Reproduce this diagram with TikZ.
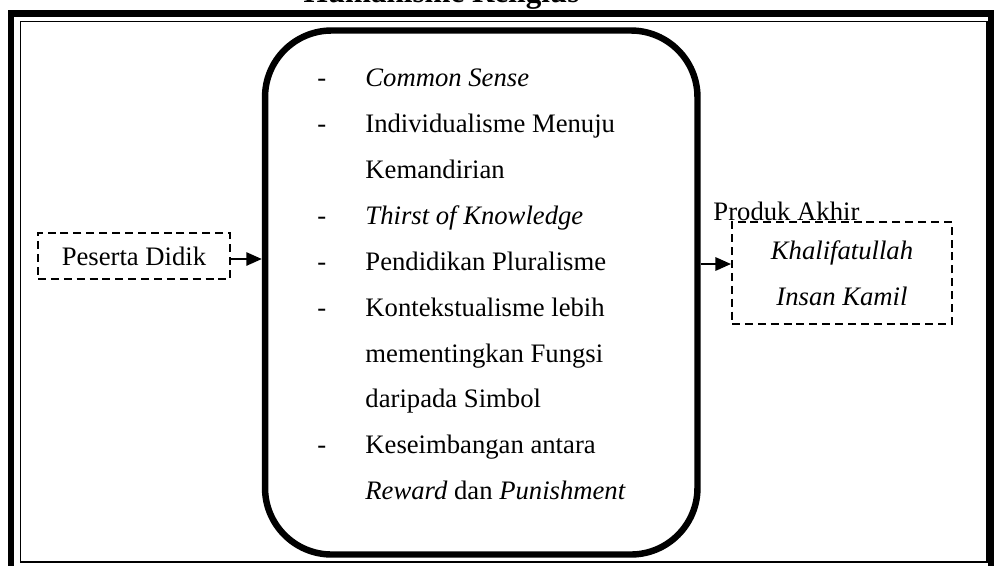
\documentclass[tikz,border=0pt]{standalone}
\usepackage{fontspec}
\setmainfont{Liberation Serif}
\usetikzlibrary{arrows.meta}

\tikzset{
    bingkai/.style={draw, dash pattern=on 3.6pt off 2.2pt, line width=0.9pt, inner sep=0pt},
    panah/.style={-{Triangle[length=7pt,width=6pt]}, line width=0.9pt},
}

\begin{document}
\begin{tikzpicture}[x=0.45pt, y=-0.45pt, font=\fontsize{12}{20.65}\selectfont]
    \useasboundingbox (0,0) rectangle (995,565);

    % Frame
    \draw[line width=3pt] (11,13.5) rectangle (991,575);
    \draw[line width=0.8pt] (20.5,21.5) rectangle (987,562);

    % Nodes
    \node[font=\bfseries\fontsize{14}{16}\selectfont, anchor=base] (judul) at (441.5,2) {Humanisme Religius};
    \node[draw, line width=2.9pt, rounded corners=30pt, minimum width=194.6pt, minimum height=235.8pt] (proses) at (481.25,292.5) {};
    \node[anchor=base west, inner sep=0pt] (daftar) at (317,86.7) {%
        \begin{tabular}[t]{@{}p{21.6pt}@{}l@{}}
            - & \textit{Common Sense}\\
            - & Individualisme Menuju\\
              & Kemandirian\\
            - & \textit{Thirst of Knowledge}\\
            - & Pendidikan Pluralisme\\
            - & Kontekstualisme lebih\\
              & mementingkan Fungsi\\
              & daripada Simbol\\
            - & Keseimbangan antara\\
              & \textit{Reward} dan \textit{Punishment}
        \end{tabular}};
    \node[bingkai, minimum width=86.4pt, minimum height=20.7pt] (peserta) at (134,256) {Peserta Didik};
    \node[bingkai, align=center, minimum width=99pt, minimum height=45.9pt] (hasil) at (842,273) {\textit{Khalifatullah}\\ \textit{Insan Kamil}};
    \node[anchor=base west, inner sep=0pt] (produk) at (713,220) {Produk Akhir};

    % Edges
    \draw[panah] (peserta.east |- 0,259) -- (proses.west |- 0,259);
    \draw[panah] (proses.east |- 0,264) -- (hasil.west |- 0,264);
\end{tikzpicture}
\end{document}
